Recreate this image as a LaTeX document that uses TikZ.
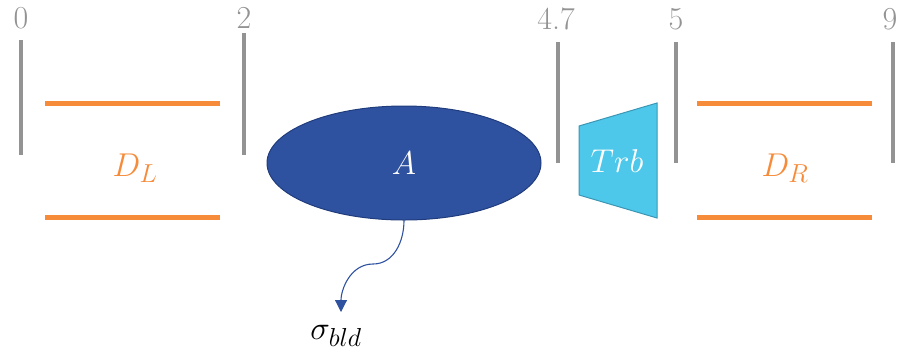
\RequirePackage{fix-cm}
\documentclass[tikz,border=0pt]{standalone}
\usepackage{amsmath}
\usetikzlibrary{shapes.geometric,arrows.meta}
\DeclareMathSizes{33}{33}{26}{20}
\definecolor{bargray}{RGB}{147,147,147}
\definecolor{dorange}{RGB}{246,139,58}
\definecolor{ablue}{RGB}{47,82,160}
\definecolor{ablueedge}{RGB}{32,60,125}
\definecolor{tcyan}{RGB}{78,200,234}
\definecolor{tcyanedge}{RGB}{58,150,180}
\begin{document}
\begin{tikzpicture}[x=1pt,y=-1pt,
  bar/.style={draw=bargray,line width=4pt},
  duct/.style={draw=dorange,line width=5pt},
  tick/.style={text=bargray,font=\fontsize{32}{36}\selectfont,inner sep=0pt},
  lbl/.style={font=\fontsize{33}{38}\selectfont,inner sep=0pt}]
\useasboundingbox (0,0) rectangle (900,360);
% position bars
\coordinate (b0t) at (21,40);  \coordinate (b0b) at (21,155);
\coordinate (b2t) at (244,33); \coordinate (b2b) at (244,155);
\coordinate (b47t) at (558,42); \coordinate (b47b) at (558,163);
\coordinate (b5t) at (676,42); \coordinate (b5b) at (676,163);
\coordinate (b9t) at (893,42); \coordinate (b9b) at (893,163);
\draw[bar] (b0t) -- (b0b);
\draw[bar] (b2t) -- (b2b);
\draw[bar] (b47t) -- (b47b);
\draw[bar] (b5t) -- (b5b);
\draw[bar] (b9t) -- (b9b);
\node[tick] (t0) at (21,18) {0};
\node[tick] (t2) at (244,18) {2};
\node[tick] (t47) at (556,19) {4.7};
\node[tick] (t5) at (676,19) {5};
\node[tick] (t9) at (890,19) {9};
% ducts
\coordinate (dl1a) at (45,103); \coordinate (dl1b) at (220,103);
\coordinate (dl2a) at (45,217); \coordinate (dl2b) at (220,217);
\coordinate (dr1a) at (697,103); \coordinate (dr1b) at (872,103);
\coordinate (dr2a) at (697,217); \coordinate (dr2b) at (872,217);
\draw[duct] (dl1a) -- (dl1b);
\draw[duct] (dl2a) -- (dl2b);
\draw[duct] (dr1a) -- (dr1b);
\draw[duct] (dr2a) -- (dr2b);
\node[lbl,text=dorange] (DL) at (135,168) {$D_L$};
\node[lbl,text=dorange] (DR) at (785,168) {$D_R$};
% ellipse A
\node[ellipse,draw=ablueedge,fill=ablue,line width=1pt,minimum width=274pt,minimum height=114pt,inner sep=0pt,text=white,font=\fontsize{33}{38}\selectfont] (A) at (404,163) {$A$};
% turbine trapezoid
\coordinate (tr1) at (579,126); \coordinate (tr2) at (657,103);
\coordinate (tr3) at (657,218); \coordinate (tr4) at (579,195);
\draw[draw=tcyanedge,fill=tcyan,line width=1pt] (tr1) -- (tr2) -- (tr3) -- (tr4) -- cycle;
\node[lbl,text=white] (Trb) at (617,161) {$Trb$};
% sigma
\node[lbl] (s) at (336,336) {$\sigma_{bld}$};
\coordinate (mid) at (373,264);
\draw[draw=ablue,line width=1.1pt,-{Triangle[length=12pt,width=12pt]}]
  (A.south) to[out=-90,in=0] (mid) to[out=180,in=90] (341,312);
\end{tikzpicture}
\end{document}
